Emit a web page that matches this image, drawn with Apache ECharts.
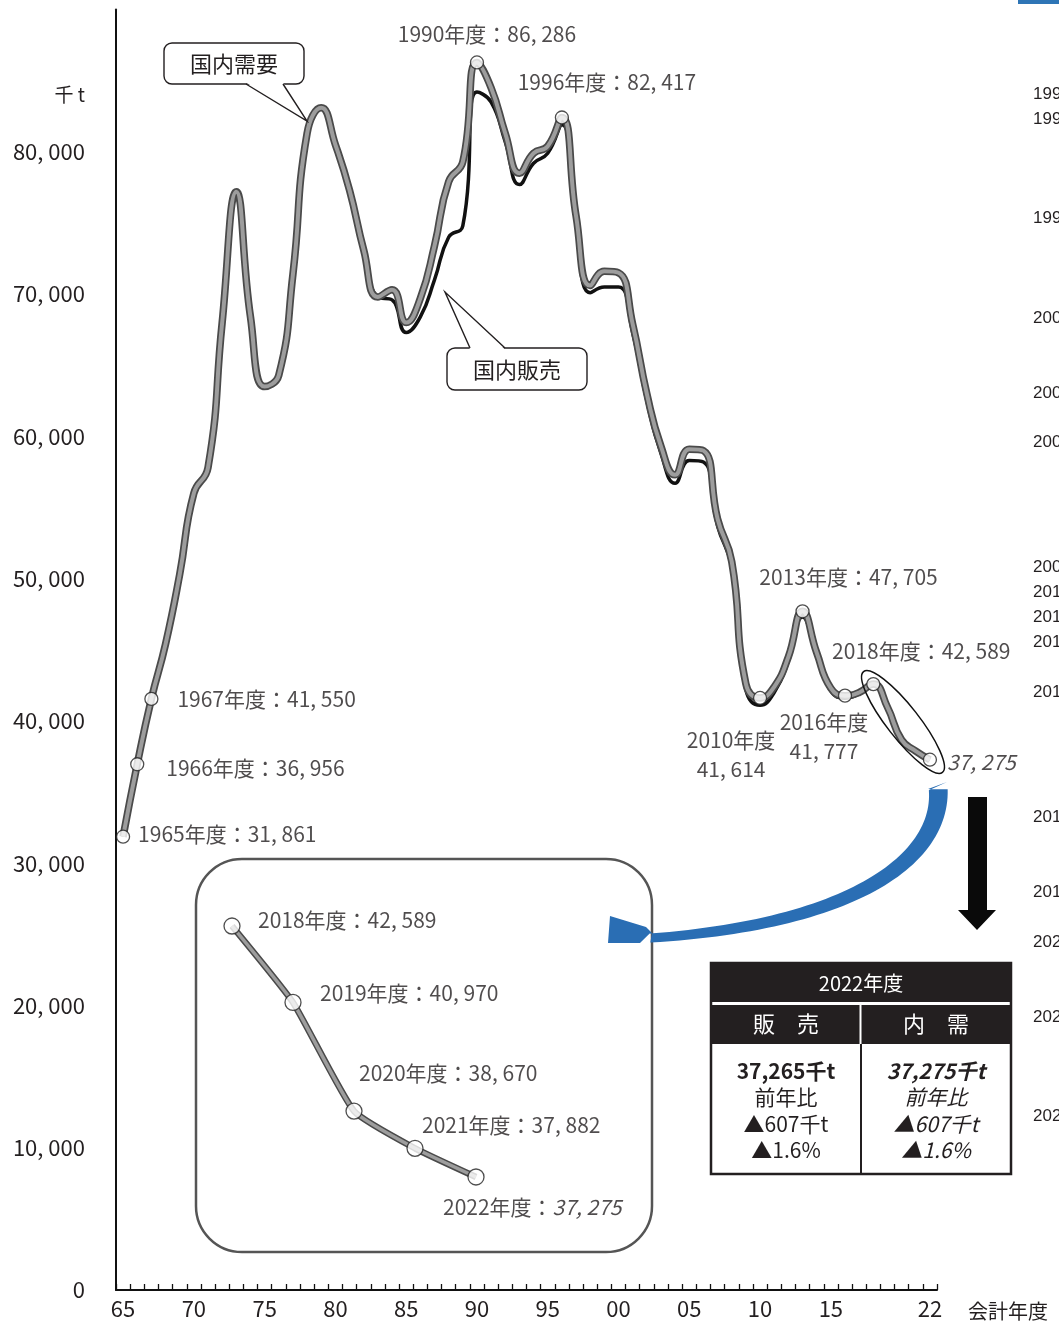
<!DOCTYPE html>
<html><head><meta charset="utf-8">
<script src="https://cdn.jsdelivr.net/npm/echarts@6/dist/echarts.min.js"></script>
<style>html,body{margin:0;padding:0;background:#fff}#c{width:1059px;height:1325px}</style>
</head><body><div id="c"></div><script>
// ---------------- data ----------------
const years = [1965,1966,1967,1968,1969,1970,1971,1972,1973,1974,1975,1976,1977,1978,1979,
  1980,1981,1982,1983,1984,1985,1986,1987,1988,1989,1990,1991,1992,1993,1994,1995,1996,1997,1998,1999,
  2000,2001,2002,2003,2004,2005,2006,2007,2008,2009,2010,2011,2012,2013,2014,2015,2016,2017,2018,2019,
  2020,2021,2022];
// 国内需要 (千t)
const demand = [31861,36956,41550,45400,50300,56000,57800,68000,77200,68400,63500,64300,71400,81300,83100,
  80500,77300,73100,69800,70300,68000,69700,73400,77900,79300,86286,84500,81300,78500,79900,80400,82417,75500,70600,71600,
  71500,67900,63000,59300,57300,59100,59000,54200,51200,42600,41614,42400,44500,47705,44800,42300,41777,42000,42589,40970,
  38670,37882,37275];
// 国内販売 (千t)
const sales = [31861,36956,41550,45400,50300,56000,57800,68000,77200,68400,63500,64300,71400,81300,83100,
  80500,77300,73100,69800,69600,67300,68400,71000,74000,74800,84200,83500,80700,77700,79200,79900,81900,75000,70100,70500,
  70500,67300,62500,58800,56700,58300,58200,53700,50800,42200,41100,42000,44200,47300,44600,42100,41600,41900,42500,40900,
  38600,37872,37265];
const highlightYears = [1965,1966,1967,1990,1996,2010,2013,2016,2018,2022];
const insetYears = [2018,2019,2020,2021,2022];
const xLabelYears = [1965,1970,1975,1980,1985,1990,1995,2000,2005,2010,2015,2022];
const yMax = 90000, yStep = 10000;

// ---------------- helpers ----------------
const FONT = "'Noto Sans CJK JP','Noto Sans',sans-serif";
const INK = '#231f20';
const fmt = v => String(v).replace(/\B(?=(\d{3})+(?!\d))/g, ', ');
const fmtT = v => String(v).replace(/\B(?=(\d{3})+(?!\d))/g, ',');
const valOf = (arr, y) => arr[years.indexOf(y)];

// label styling per highlighted year (positions relative to the point)
const mainLabelLayout = {
  1965:{align:'left', offset:[15,-3]},
  1966:{align:'left', offset:[29,4]},
  1967:{align:'left', offset:[26,0]},
  1990:{align:'center', offset:[10,-28]},
  1996:{align:'center', offset:[45,-35]},
  2010:{align:'center', offset:[-29,57], two:true},
  2013:{align:'center', offset:[46,-34]},
  2016:{align:'center', offset:[-21,41], two:true},
  2018:{align:'center', offset:[48,-33]},
  2022:{align:'left', offset:[17,2], only:true}
};
const insetLabelLayout = {
  2018:{offset:[26,-6]},
  2019:{offset:[27,-9]},
  2020:{offset:[5,-38]},
  2021:{offset:[7,-23]},
  2022:{offset:[-33,30], last:true}
};

const hlData = highlightYears.map(y => {
  const L = mainLabelLayout[y];
  let text;
  if (L.only) text = '{i|' + fmt(valOf(demand,y)) + '}';
  else if (L.two) text = y + '年度\n' + fmt(valOf(demand,y));
  else text = y + '年度：' + fmt(valOf(demand,y));
  return {
    value: [String(y), valOf(demand,y)],
    label: {show:true, position:'inside', align:L.align, verticalAlign:'middle',
      offset:L.offset, formatter:text, lineHeight:29}
  };
});
const insetData = insetYears.map(y => {
  const L = insetLabelLayout[y];
  const text = L.last ? (y + '年度：{i|' + fmt(valOf(demand,y)) + '}') : (y + '年度：' + fmt(valOf(demand,y)));
  return {
    value: [y, valOf(demand,y)],
    label: {show:true, position:'inside', align:'left', verticalAlign:'middle', offset:L.offset, formatter:text}
  };
});

const labelBase = {color:INK, fontFamily:FONT, fontSize:21,
  rich:{i:{fontStyle:'italic', fontSize:21, fontFamily:FONT, color:INK}}};

// ---------------- decorations ----------------
function bez(p0,p1,p2,p3,n){const o=[];for(let i=0;i<=n;i++){const t=i/n,u=1-t;
  o.push([u*u*u*p0[0]+3*u*u*t*p1[0]+3*u*t*t*p2[0]+t*t*t*p3[0], u*u*u*p0[1]+3*u*u*t*p1[1]+3*u*t*t*p2[1]+t*t*t*p3[1]]);}return o;}
// tapered band along a centre line
const centre = bez([938,786],[945,860],[850,925],[650,938], 60);
const left = [], right = [];
centre.forEach((p, i) => {
  const a = centre[Math.max(0,i-1)], b = centre[Math.min(centre.length-1,i+1)];
  let dx = b[0]-a[0], dy = b[1]-a[1]; const L = Math.hypot(dx,dy) || 1; dx/=L; dy/=L;
  const f = i/(centre.length-1); const w = (19 - 10*f)/2;
  right.push([p[0] - dy*w, p[1] + dx*w]);   // outer (lower/right) side
  left.push([p[0] + dy*w, p[1] - dx*w]);    // inner (upper/left) side
});
right[0] = [947, 782]; left[0] = [928, 789];
const blueArrow = right.concat([[640,943],[608,943],[610,916],[646,927],[652,933]]).concat(left.reverse());

const T = (text, x, y, o) => Object.assign({type:'text', x:x, y:y, z:30,
  style:Object.assign({text:text, fill:INK, fontFamily:FONT, fontSize:20, align:'center', verticalAlign:'middle'}, o||{})});

const edgeTexts = [[94,'1990'],[119,'1991'],[218,'1995'],[318,'2000'],[393,'2003'],[442,'2005'],[567,'2008'],[592,'2010'],
  [617,'2013'],[642,'2015'],[692,'2016'],[817,'2017'],[892,'2019'],[942,'2020'],[1017,'2021'],[1116,'2022']];

const graphics = [
  T('千 t', 85, 95, {align:'right', fontSize:19}),
  // callout 国内需要
  {type:'rect', z:20, shape:{x:164,y:43,width:140,height:41,r:8}, style:{fill:'#fff', stroke:INK, lineWidth:1.4}},
  {type:'polygon', z:21, shape:{points:[[246,82.5],[307,121],[283,82.5]]}, style:{fill:'#fff'}},
  {type:'polyline', z:22, shape:{points:[[246,84],[307,121],[283,84]]}, style:{stroke:INK, lineWidth:1.4, fill:null}},
  T('国内需要', 234, 63.5, {fontSize:22}),
  // callout 国内販売
  {type:'rect', z:20, shape:{x:447,y:348,width:140,height:42,r:8}, style:{fill:'#fff', stroke:INK, lineWidth:1.4}},
  {type:'polygon', z:21, shape:{points:[[470,349.5],[445,292],[505,349.5]]}, style:{fill:'#fff'}},
  {type:'polyline', z:22, shape:{points:[[470,348],[445,292],[505,348]]}, style:{stroke:INK, lineWidth:1.4, fill:null}},
  T('国内販売', 517, 369.5, {fontSize:22}),
  // ellipse around 2018-2022
  {type:'ellipse', z:25, x:903, y:722, rotation:-0.907, shape:{cx:0, cy:0, rx:64, ry:16},
    style:{fill:null, stroke:'#111', lineWidth:1.5}},
  // inset frame
  {type:'rect', z:1, shape:{x:196,y:859,width:456,height:393,r:46}, style:{fill:null, stroke:'#555', lineWidth:2.5}},
  // blue curved arrow
  {type:'polygon', z:26, shape:{points:blueArrow}, style:{fill:'#2a6eb4'}},
  // black down arrow
  {type:'polygon', z:26, shape:{points:[[968,797],[987,797],[987,910],[996,910],[977,930],[958,910],[968,910]]}, style:{fill:'#0a0a0a'}},
  // table
  {type:'rect', z:27, shape:{x:711,y:963,width:300,height:211}, style:{fill:'#fff', stroke:INK, lineWidth:2.5}},
  {type:'rect', z:28, shape:{x:710,y:962,width:302,height:40}, style:{fill:INK}},
  {type:'rect', z:28, shape:{x:710,y:1005,width:302,height:39}, style:{fill:INK}},
  {type:'rect', z:29, shape:{x:859.5,y:1005,width:2,height:39}, style:{fill:'#fff'}},
  {type:'line', z:29, shape:{x1:861,y1:1044,x2:861,y2:1175}, style:{stroke:INK, lineWidth:2}},
  T('2022年度', 861, 983, {fill:'#fff', fontSize:20}),
  T('販　売', 786, 1024, {fill:'#fff', fontSize:22}),
  T('内　需', 936, 1024, {fill:'#fff', fontSize:22}),
  T(fmtT(valOf(sales,2022)) + '千t', 786, 1071, {fontSize:21, fontWeight:'bold'}),
  T('前年比', 786, 1097, {fontSize:21}),
  T('▲' + (valOf(sales,2021) - valOf(sales,2022)) + '千t', 786, 1124, {fontSize:21}),
  T('▲' + ((valOf(sales,2021) - valOf(sales,2022)) / valOf(sales,2021) * 100).toFixed(1) + '%', 786, 1150, {fontSize:21}),
  T(fmtT(valOf(demand,2022)) + '千t', 936, 1071, {fontSize:21, fontWeight:'bold', fontStyle:'italic'}),
  T('前年比', 936, 1097, {fontSize:21, fontStyle:'italic'}),
  T('▲' + (valOf(demand,2021) - valOf(demand,2022)) + '千t', 936, 1124, {fontSize:21, fontStyle:'italic'}),
  T('▲' + ((valOf(demand,2021) - valOf(demand,2022)) / valOf(demand,2021) * 100).toFixed(1) + '%', 936, 1150, {fontSize:21, fontStyle:'italic'}),
  // clipped neighbour content at right edge
  {type:'rect', z:1, shape:{x:1018,y:0,width:41,height:4}, style:{fill:'#2e75b6'}}
].concat(edgeTexts.map(e => T(e[1] + '年度', 1033, e[0], {align:'left', fontSize:17, fontFamily:"'Liberation Sans',Arial,sans-serif"})));

// ---------------- chart ----------------
const chart = echarts.init(document.getElementById('c'), null, {renderer:'canvas'});
chart.setOption({
  animation:false,
  backgroundColor:'#fff',
  grid:[
    {left:116, right:122, top:9.6, bottom:35, outerBoundsMode:'none', containLabel:false},
    {left:232, width:244, top:906.6, height:330.6, outerBoundsMode:'none', containLabel:false}
  ],
  xAxis:[
    {type:'category', gridIndex:0, data:years.map(String), boundaryGap:true,
      axisLine:{show:true, lineStyle:{color:'#111', width:2}},
      axisTick:{show:true, inside:true, length:6, interval:0, lineStyle:{color:'#111', width:1.3}},
      axisLabel:{interval:0, margin:8, color:INK, fontFamily:FONT, fontSize:22,
        formatter:v => xLabelYears.indexOf(+v) >= 0 ? v.slice(2) : ''},
      splitLine:{show:false},
      name:'会計年度', nameLocation:'end', nameGap:31,
      nameTextStyle:{color:INK, fontFamily:FONT, fontSize:20, align:'left', verticalAlign:'top', padding:[11,0,0,0]}},
    {type:'value', gridIndex:1, min:2018, max:2022, show:false}
  ],
  yAxis:[
    {type:'value', gridIndex:0, min:0, max:yMax, interval:yStep,
      axisLine:{show:true, lineStyle:{color:'#111', width:2}},
      axisTick:{show:false}, splitLine:{show:false},
      axisLabel:{margin:31, color:INK, fontFamily:FONT, fontSize:22,
        formatter:v => v === yMax ? '' : fmt(v)}},
    {type:'value', gridIndex:1, min:36000, max:43000, show:false}
  ],
  series:[
    {type:'line', name:'国内販売', data:sales, smooth:0.5, symbol:'none', z:2,
      lineStyle:{color:'#111', width:3.5}},
    {type:'line', name:'国内需要枠', data:demand, smooth:0.5, symbol:'none', z:3,
      lineStyle:{color:'#4a4a4a', width:7.5}},
    {type:'line', name:'国内需要', data:demand, smooth:0.5, symbol:'none', z:4,
      lineStyle:{color:'#9d9d9d', width:4}},
    {type:'scatter', data:hlData, symbol:'circle', symbolSize:13, z:6,
      itemStyle:{color:'#fff', borderColor:'#222', borderWidth:1.3},
      label:labelBase},
    {type:'line', xAxisIndex:1, yAxisIndex:1, data:insetYears.map(y => [y, valOf(demand,y)]), smooth:0.15,
      symbol:'none', z:3, lineStyle:{color:'#4a4a4a', width:6.5}},
    {type:'line', xAxisIndex:1, yAxisIndex:1, data:insetYears.map(y => [y, valOf(demand,y)]), smooth:0.15,
      symbol:'none', z:4, lineStyle:{color:'#9d9d9d', width:3.5}},
    {type:'scatter', xAxisIndex:1, yAxisIndex:1, data:insetData, symbol:'circle', symbolSize:16, z:6,
      itemStyle:{color:'#fff', borderColor:'#222', borderWidth:1.3},
      label:labelBase}
  ],
  graphic:graphics
});
</script></body></html>
